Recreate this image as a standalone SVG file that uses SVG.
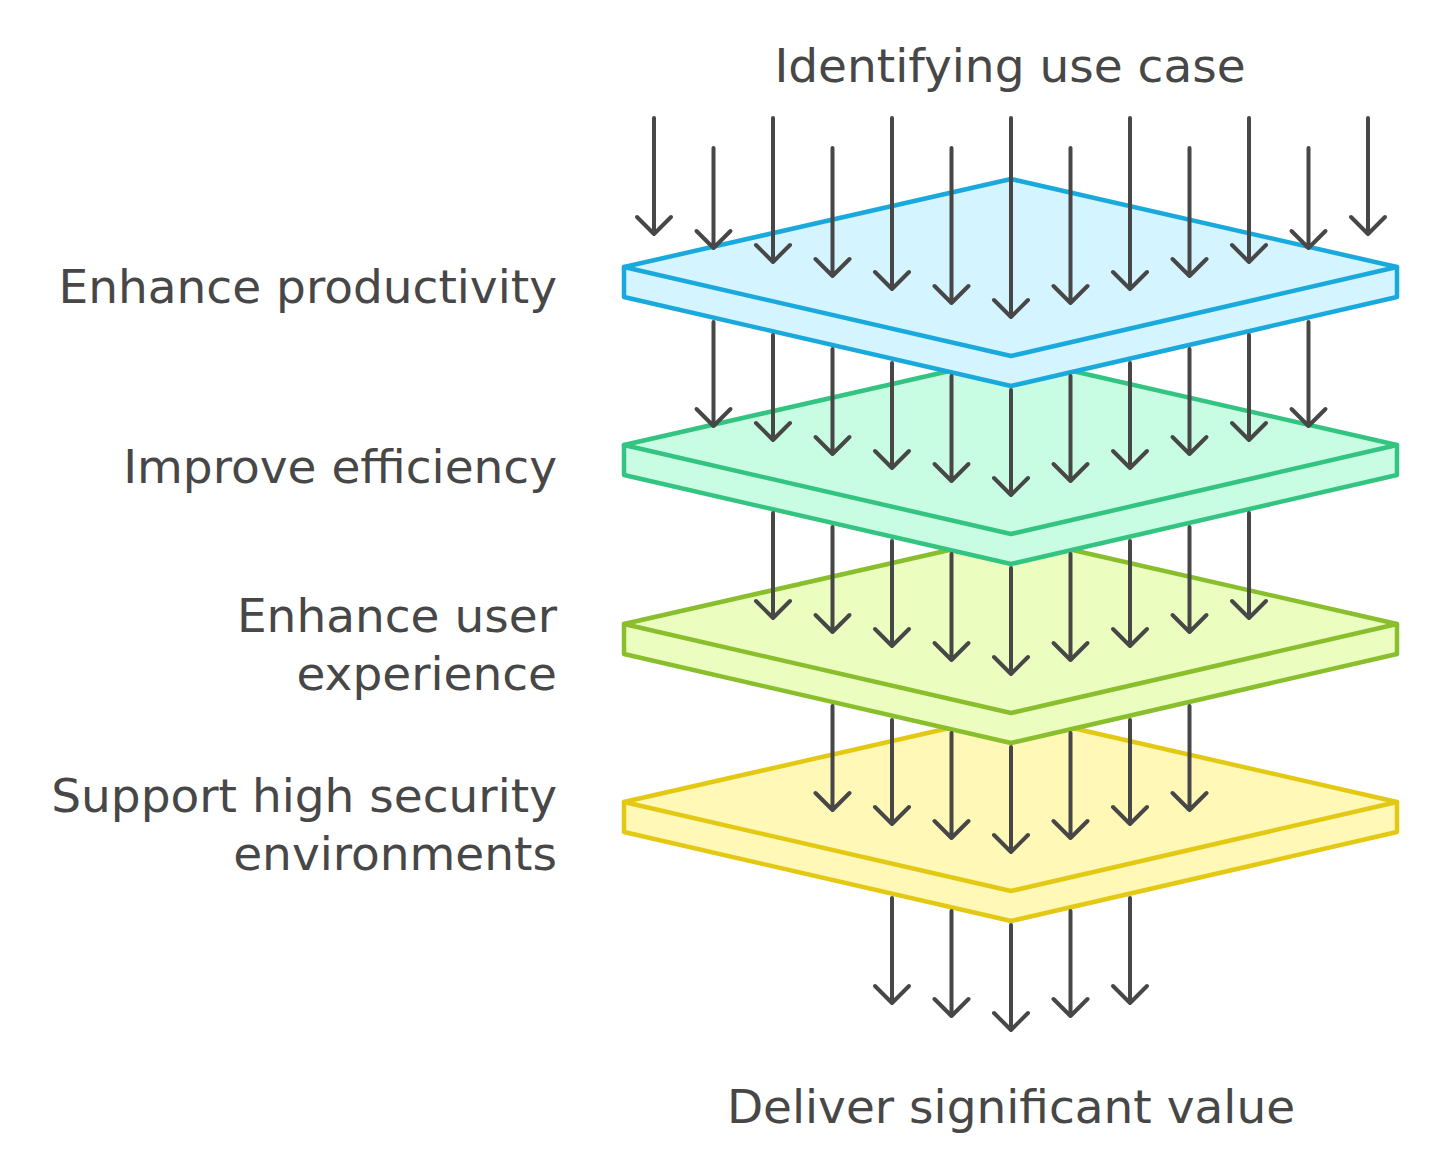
<svg xmlns="http://www.w3.org/2000/svg" width="1430" height="1160" viewBox="0 0 1430 1160">
<style>
.lbl{font-family:"DejaVu Sans","Liberation Sans",sans-serif;font-size:47px;fill:#474747}
.r{text-anchor:end}
.c{text-anchor:middle}
.plate{stroke-width:4.5;stroke-linejoin:round}
.edge{fill:none;stroke-width:4.5;stroke-linejoin:round;stroke-linecap:round}
.arr{fill:none;stroke:#474747;stroke-width:4;stroke-linecap:round;stroke-linejoin:round}
</style>
<rect width="1430" height="1160" fill="#ffffff"/>
<g id="layer-yellow">
<polygon class="plate" fill="#fff8b6" stroke="#e3c913" points="624,802 1011,714 1397,802 1397,832 1011,921 624,832"/>
<polyline class="edge" stroke="#e3c913" points="624,802 1011,891 1397,802"/>
</g>
<g id="layer-lime">
<polygon class="plate" fill="#ebfec0" stroke="#89be2c" points="624,624 1011,536 1397,624 1397,654 1011,743 624,654"/>
<polyline class="edge" stroke="#89be2c" points="624,624 1011,713 1397,624"/>
</g>
<g id="layer-green">
<polygon class="plate" fill="#c8fde3" stroke="#33c481" points="624,445 1011,357 1397,445 1397,475 1011,564 624,475"/>
<polyline class="edge" stroke="#33c481" points="624,445 1011,534 1397,445"/>
</g>
<g id="layer-blue">
<polygon class="plate" fill="#d4f4ff" stroke="#1aa9dc" points="624,267 1011,179 1397,267 1397,297 1011,386 624,297"/>
<polyline class="edge" stroke="#1aa9dc" points="624,267 1011,356 1397,267"/>
</g>
<g id="connectors" class="arr">
<path d="M654 118V234M637 217L654 234L671 217"/>
<path d="M713.5 148V248M696.5 231L713.5 248L730.5 231"/>
<path d="M773 118V262M756 245L773 262L790 245"/>
<path d="M832.5 148V276M815.5 259L832.5 276L849.5 259"/>
<path d="M892 118V289M875 272L892 289L909 272"/>
<path d="M951.5 148V303M934.5 286L951.5 303L968.5 286"/>
<path d="M1011 118V317M994 300L1011 317L1028 300"/>
<path d="M1070.5 148V303M1053.5 286L1070.5 303L1087.5 286"/>
<path d="M1130 118V289M1113 272L1130 289L1147 272"/>
<path d="M1189.5 148V276M1172.5 259L1189.5 276L1206.5 259"/>
<path d="M1249 118V262M1232 245L1249 262L1266 245"/>
<path d="M1308.5 148V248M1291.5 231L1308.5 248L1325.5 231"/>
<path d="M1368 118V234M1351 217L1368 234L1385 217"/>

<path d="M713.5 322V426M696.5 409L713.5 426L730.5 409"/>
<path d="M773 335V440M756 423L773 440L790 423"/>
<path d="M832.5 349V454M815.5 437L832.5 454L849.5 437"/>
<path d="M892 363V468M875 451L892 468L909 451"/>
<path d="M951.5 376V481M934.5 464L951.5 481L968.5 464"/>
<path d="M1011 390V495M994 478L1011 495L1028 478"/>
<path d="M1070.5 376V481M1053.5 464L1070.5 481L1087.5 464"/>
<path d="M1130 363V468M1113 451L1130 468L1147 451"/>
<path d="M1189.5 349V454M1172.5 437L1189.5 454L1206.5 437"/>
<path d="M1249 335V440M1232 423L1249 440L1266 423"/>
<path d="M1308.5 322V426M1291.5 409L1308.5 426L1325.5 409"/>

<path d="M773 513V618M756 601L773 618L790 601"/>
<path d="M832.5 527V632M815.5 615L832.5 632L849.5 615"/>
<path d="M892 541V646M875 629L892 646L909 629"/>
<path d="M951.5 554V660M934.5 643L951.5 660L968.5 643"/>
<path d="M1011 568V674M994 657L1011 674L1028 657"/>
<path d="M1070.5 554V660M1053.5 643L1070.5 660L1087.5 643"/>
<path d="M1130 541V646M1113 629L1130 646L1147 629"/>
<path d="M1189.5 527V632M1172.5 615L1189.5 632L1206.5 615"/>
<path d="M1249 513V618M1232 601L1249 618L1266 601"/>

<path d="M832.5 706V810M815.5 793L832.5 810L849.5 793"/>
<path d="M892 720V824M875 807L892 824L909 807"/>
<path d="M951.5 733V838M934.5 821L951.5 838L968.5 821"/>
<path d="M1011 747V852M994 835L1011 852L1028 835"/>
<path d="M1070.5 733V838M1053.5 821L1070.5 838L1087.5 821"/>
<path d="M1130 720V824M1113 807L1130 824L1147 807"/>
<path d="M1189.5 706V810M1172.5 793L1189.5 810L1206.5 793"/>

<path d="M892 898V1003M875 986L892 1003L909 986"/>
<path d="M951.5 911V1016M934.5 999L951.5 1016L968.5 999"/>
<path d="M1011 925V1030M994 1013L1011 1030L1028 1013"/>
<path d="M1070.5 911V1016M1053.5 999L1070.5 1016L1087.5 999"/>
<path d="M1130 898V1003M1113 986L1130 1003L1147 986"/>
</g>
<g id="label-top"><text class="lbl c" x="1010" y="82">Identifying use case</text></g>
<g id="label-productivity"><text class="lbl r" x="557" y="303">Enhance productivity</text></g>
<g id="label-efficiency"><text class="lbl r" x="557" y="483">Improve efficiency</text></g>
<g id="label-experience"><text class="lbl r" x="557" y="632">Enhance user</text><text class="lbl r" x="557" y="690">experience</text></g>
<g id="label-security"><text class="lbl r" x="557" y="812">Support high security</text><text class="lbl r" x="557" y="870">environments</text></g>
<g id="label-bottom"><text class="lbl c" x="1011" y="1123">Deliver significant value</text></g>
</svg>
